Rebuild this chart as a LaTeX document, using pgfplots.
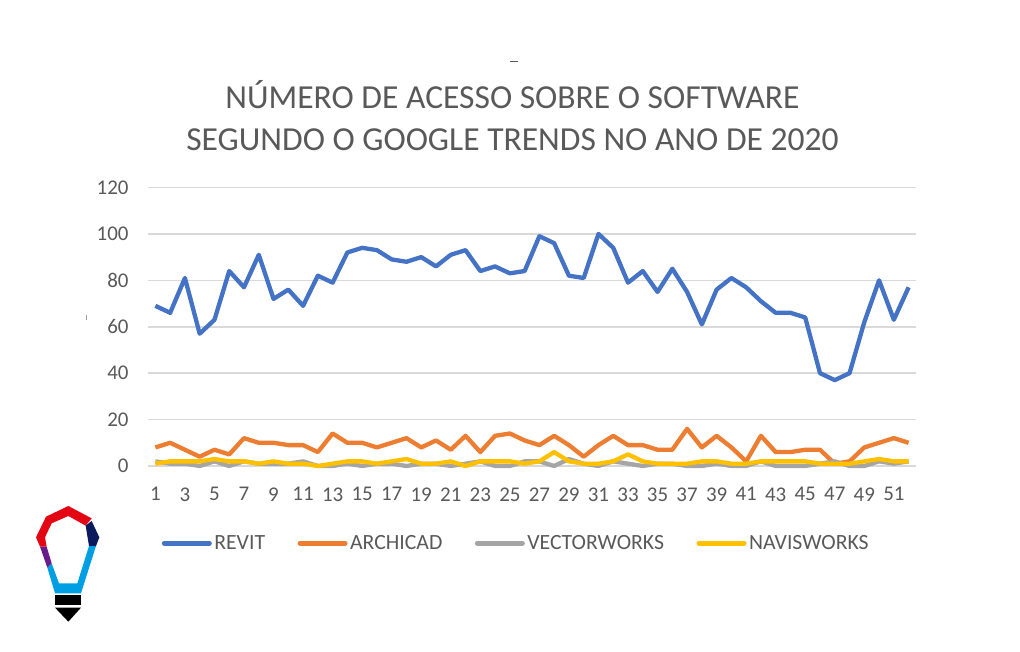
\documentclass[border=0pt]{standalone}
\usepackage{pgfplots}
\pgfplotsset{compat=1.18}
\usepackage{fontspec}
\setmainfont{Carlito}
\definecolor{crevit}{HTML}{4472C4}
\definecolor{carchi}{HTML}{ED7D31}
\definecolor{cvector}{HTML}{A5A5A5}
\definecolor{cnavis}{HTML}{FFC000}
\definecolor{ctext}{HTML}{595959}
\definecolor{cgrid}{HTML}{D9D9D9}
\definecolor{lred}{HTML}{E30613}
\definecolor{lnavy}{HTML}{0A1A5C}
\definecolor{lpurple}{HTML}{6A1B8A}
\definecolor{lblue}{HTML}{009FE3}
\pgfplotstableread{
w revit archi vector navis
1 69 8 2 1
2 66 10 1 2
3 81 7 1 2
4 57 4 0 2
5 63 7 2 3
6 84 5 0 2
7 77 12 2 2
8 91 10 1 1
9 72 10 1 2
10 76 9 1 1
11 69 9 2 1
12 82 6 0 0
13 79 14 0 1
14 92 10 1 2
15 94 10 0 2
16 93 8 1 1
17 89 10 1 2
18 88 12 0 3
19 90 8 1 1
20 86 11 1 1
21 91 7 0 2
22 93 13 1 0
23 84 6 2 2
24 86 13 0 2
25 83 14 0 2
26 84 11 2 1
27 99 9 2 2
28 96 13 0 6
29 82 9 3 2
30 81 4 1 1
31 100 9 0 1
32 94 13 2 2
33 79 9 1 5
34 84 9 0 2
35 75 7 1 1
36 85 7 1 1
37 75 16 0 1
38 61 8 0 2
39 76 13 1 2
40 81 8 0 1
41 77 2 0 1
42 71 13 2 2
43 66 6 0 2
44 66 6 0 2
45 64 7 0 2
46 40 7 1 1
47 37 1 2 1
48 40 2 0 1
49 62 8 0 2
50 80 10 2 3
51 63 12 1 2
52 77 10 2 2
}\datatable
\begin{document}
\begin{tikzpicture}[x=1bp,y=1bp]
\useasboundingbox (0,0) rectangle (1020,652);
\begin{axis}[
  at={(148bp,186bp)}, anchor=south west,
  scale only axis, width=768bp, height=278.5bp,
  xmin=0.5, xmax=52.5, ymin=0, ymax=120,
  xtick={1,3,...,51},
  ytick={0,20,...,120},
  axis x line=bottom, axis y line=left,
  x axis line style={-,draw=cgrid,line width=1.6bp},
  y axis line style={draw=none},
  major tick length=0pt,
  ymajorgrids, major grid style={cgrid,line width=1.6bp},
  tick label style={font=\fontsize{21}{23}\selectfont,text=ctext},
  /pgf/number format/assume math mode=true,
  xticklabel style={yshift=-18bp},
  yticklabel style={xshift=-16bp},
  legend columns=4,
  legend style={at={(rel axis cs:0.018,-0.277)},anchor=west,draw=none,fill=none,
    font=\fontsize{21.8}{24}\selectfont,text=ctext,
    /tikz/every even column/.style={column sep=30bp},
    nodes={inner xsep=2.5bp,inner ysep=0pt},
    inner sep=0pt,outer sep=0pt},
  legend cell align=left,
  legend image code/.code={\draw[#1,line width=5bp,line cap=round] (2.5bp,0)--(47.5bp,0);},
  clip=false,
]
\addplot[crevit,line width=4.3bp,line join=round] table[x=w,y=revit]{\datatable};
\addlegendentry{REVIT}
\addplot[carchi,line width=4.3bp,line join=round] table[x=w,y=archi]{\datatable};
\addlegendentry{ARCHICAD}
\addplot[cvector,line width=4.3bp,line join=round] table[x=w,y=vector]{\datatable};
\addlegendentry{VECTORWORKS}
\addplot[cnavis,line width=4.3bp,line join=round] table[x=w,y=navis]{\datatable};
\addlegendentry{NAVISWORKS}
\end{axis}
\node[text=ctext,font=\fontsize{33.7}{42}\selectfont,align=center,anchor=center] at (512.5,536.5) {NÚMERO DE ACESSO SOBRE O SOFTWARE\\SEGUNDO O GOOGLE TRENDS NO ANO DE 2020};
% logo, traced in the coordinates of a 3x crop
\begin{scope}[shift={(20,157)},x=0.33333bp,y=-0.33333bp]
\fill[lblue] (82,218) -- (95,205) -- (117,265) -- (172,265) -- (207,153) -- (228,153) -- (183,295) -- (105,295) -- cycle;
\fill[lpurple] (60,155) -- (80,155) -- (95,205) -- (82,218) -- cycle;
\fill[lnavy] (197,92) -- (215,78) -- (238,127) -- (228,153) -- (207,153) -- cycle;
\fill[lred] (60,155) -- (48,127) -- (78,65) -- (145,33) -- (215,70) -- (197,92) -- (145,63) -- (95,85) -- (75,127) -- (80,155) -- cycle;
\fill[black] (105,300) rectangle (183,330);
\fill[black] (105,338) -- (183,338) -- (145,380) -- cycle;
\end{scope}
\fill[ctext] (510,590) rectangle (518,591);
\fill[ctext!60] (85.5,332) rectangle (86.5,337);
\end{tikzpicture}
\end{document}
